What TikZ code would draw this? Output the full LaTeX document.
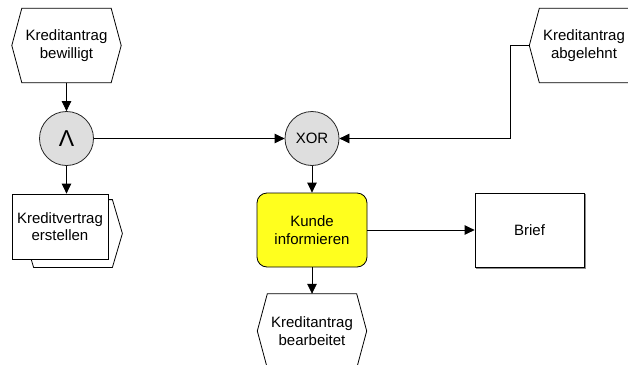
\documentclass[tikz,border=0pt]{standalone}
\usepackage{fontspec}
\setmainfont{Liberation Sans}
\usetikzlibrary{arrows.meta,calc,backgrounds}

% hexagonal event outline around a (text-only) node
\newcommand\eventoutline[1]{%
  \draw[shapeline, fill=white]
    (#1.west) -- ($(#1.north west)+(10,0)$) -- ($(#1.north east)+(-10,0)$)
    -- (#1.east) -- ($(#1.south east)+(-10,0)$) -- ($(#1.south west)+(10,0)$)
    -- cycle;}

\begin{document}
\begin{tikzpicture}[x=1pt,y=-1pt,
  every node/.style={font=\fontsize{15}{17.5}\selectfont, align=center, inner sep=0pt},
  shapeline/.style={draw=black, line width=0.8pt},
  event/.style={minimum width=109pt, minimum height=74pt},
  connector/.style={draw=black, line width=0.8pt},
  arr/.style={connector, -{Triangle[length=10pt,width=9.5pt]}},
  gate/.style={circle, shapeline, draw=black!85, fill=black!13, minimum size=54pt},
  funcbox/.style={rectangle, shapeline, fill=white},
  activity/.style={rectangle, rounded corners=10pt, shapeline, fill={rgb,255:red,255;green,255;blue,30},
    minimum width=110pt, minimum height=74pt},
]
\clip (0,0) rectangle (628,364);
\useasboundingbox (0,0) rectangle (628,364);

% events
\node[event] (bew)   at (66.5,45.5) {Kreditantrag\\bewilligt};
\node[event] (abl)   at (584,45.5)  {Kreditantrag\\abgelehnt};
\node[event] (bearb) at (312,331)   {Kreditantrag\\bearbeitet};

% connectors (gates)
\node[gate] (and) at (66.5,138.5) {\fontsize{23}{23}\selectfont Λ};
\node[gate] (xor) at (312,138.5)  {XOR};

% functions and output
\node[funcbox, minimum width=96pt, minimum height=65pt] (kv) at (60,226.5) {Kreditvertrag\\erstellen};
\node[activity] (kunde) at (312,230) {Kunde\\informieren};
\node[funcbox, minimum width=109pt, minimum height=74pt] (brief) at (529.5,230) {Brief};

\begin{scope}[on background layer]
  \fill[white] (0,0) rectangle (628,364);
  \eventoutline{bew}
  \eventoutline{abl}
  \eventoutline{bearb}
  % process path outline behind "Kreditvertrag erstellen"
  \draw[shapeline, fill=white]
    ($(kv.west)+(12,7)$) -- ($(kv.north west)+(22,6)$) -- ($(kv.north east)+(4,6)$)
    -- ($(kv.east)+(14,7)$) -- ($(kv.south east)+(4,8)$) -- ($(kv.south west)+(22,8)$)
    -- cycle;
  % light shadow of the output box
  \draw[black!45, line width=1pt]
    ($(brief.north east)+(1.2,1)$) -- ($(brief.south east)+(1.2,1.2)$) -- ($(brief.south west)+(1,1.2)$);
\end{scope}

% flow
\draw[arr] (bew.south) -- (and.north);
\draw[arr] (and.south) -- (and.south |- kv.north);
\draw[arr] (and.east) -- (xor.west);
\coordinate (bend) at ($(abl.west)+(-19,0)$);
\draw[arr] (abl.west) -- (bend) |- (xor.east);
\draw[arr] (xor.south) -- (kunde.north);
\draw[arr] (kunde.east) -- (brief.west);
\draw[arr] (kunde.south) -- (bearb.north);
\end{tikzpicture}
\end{document}
